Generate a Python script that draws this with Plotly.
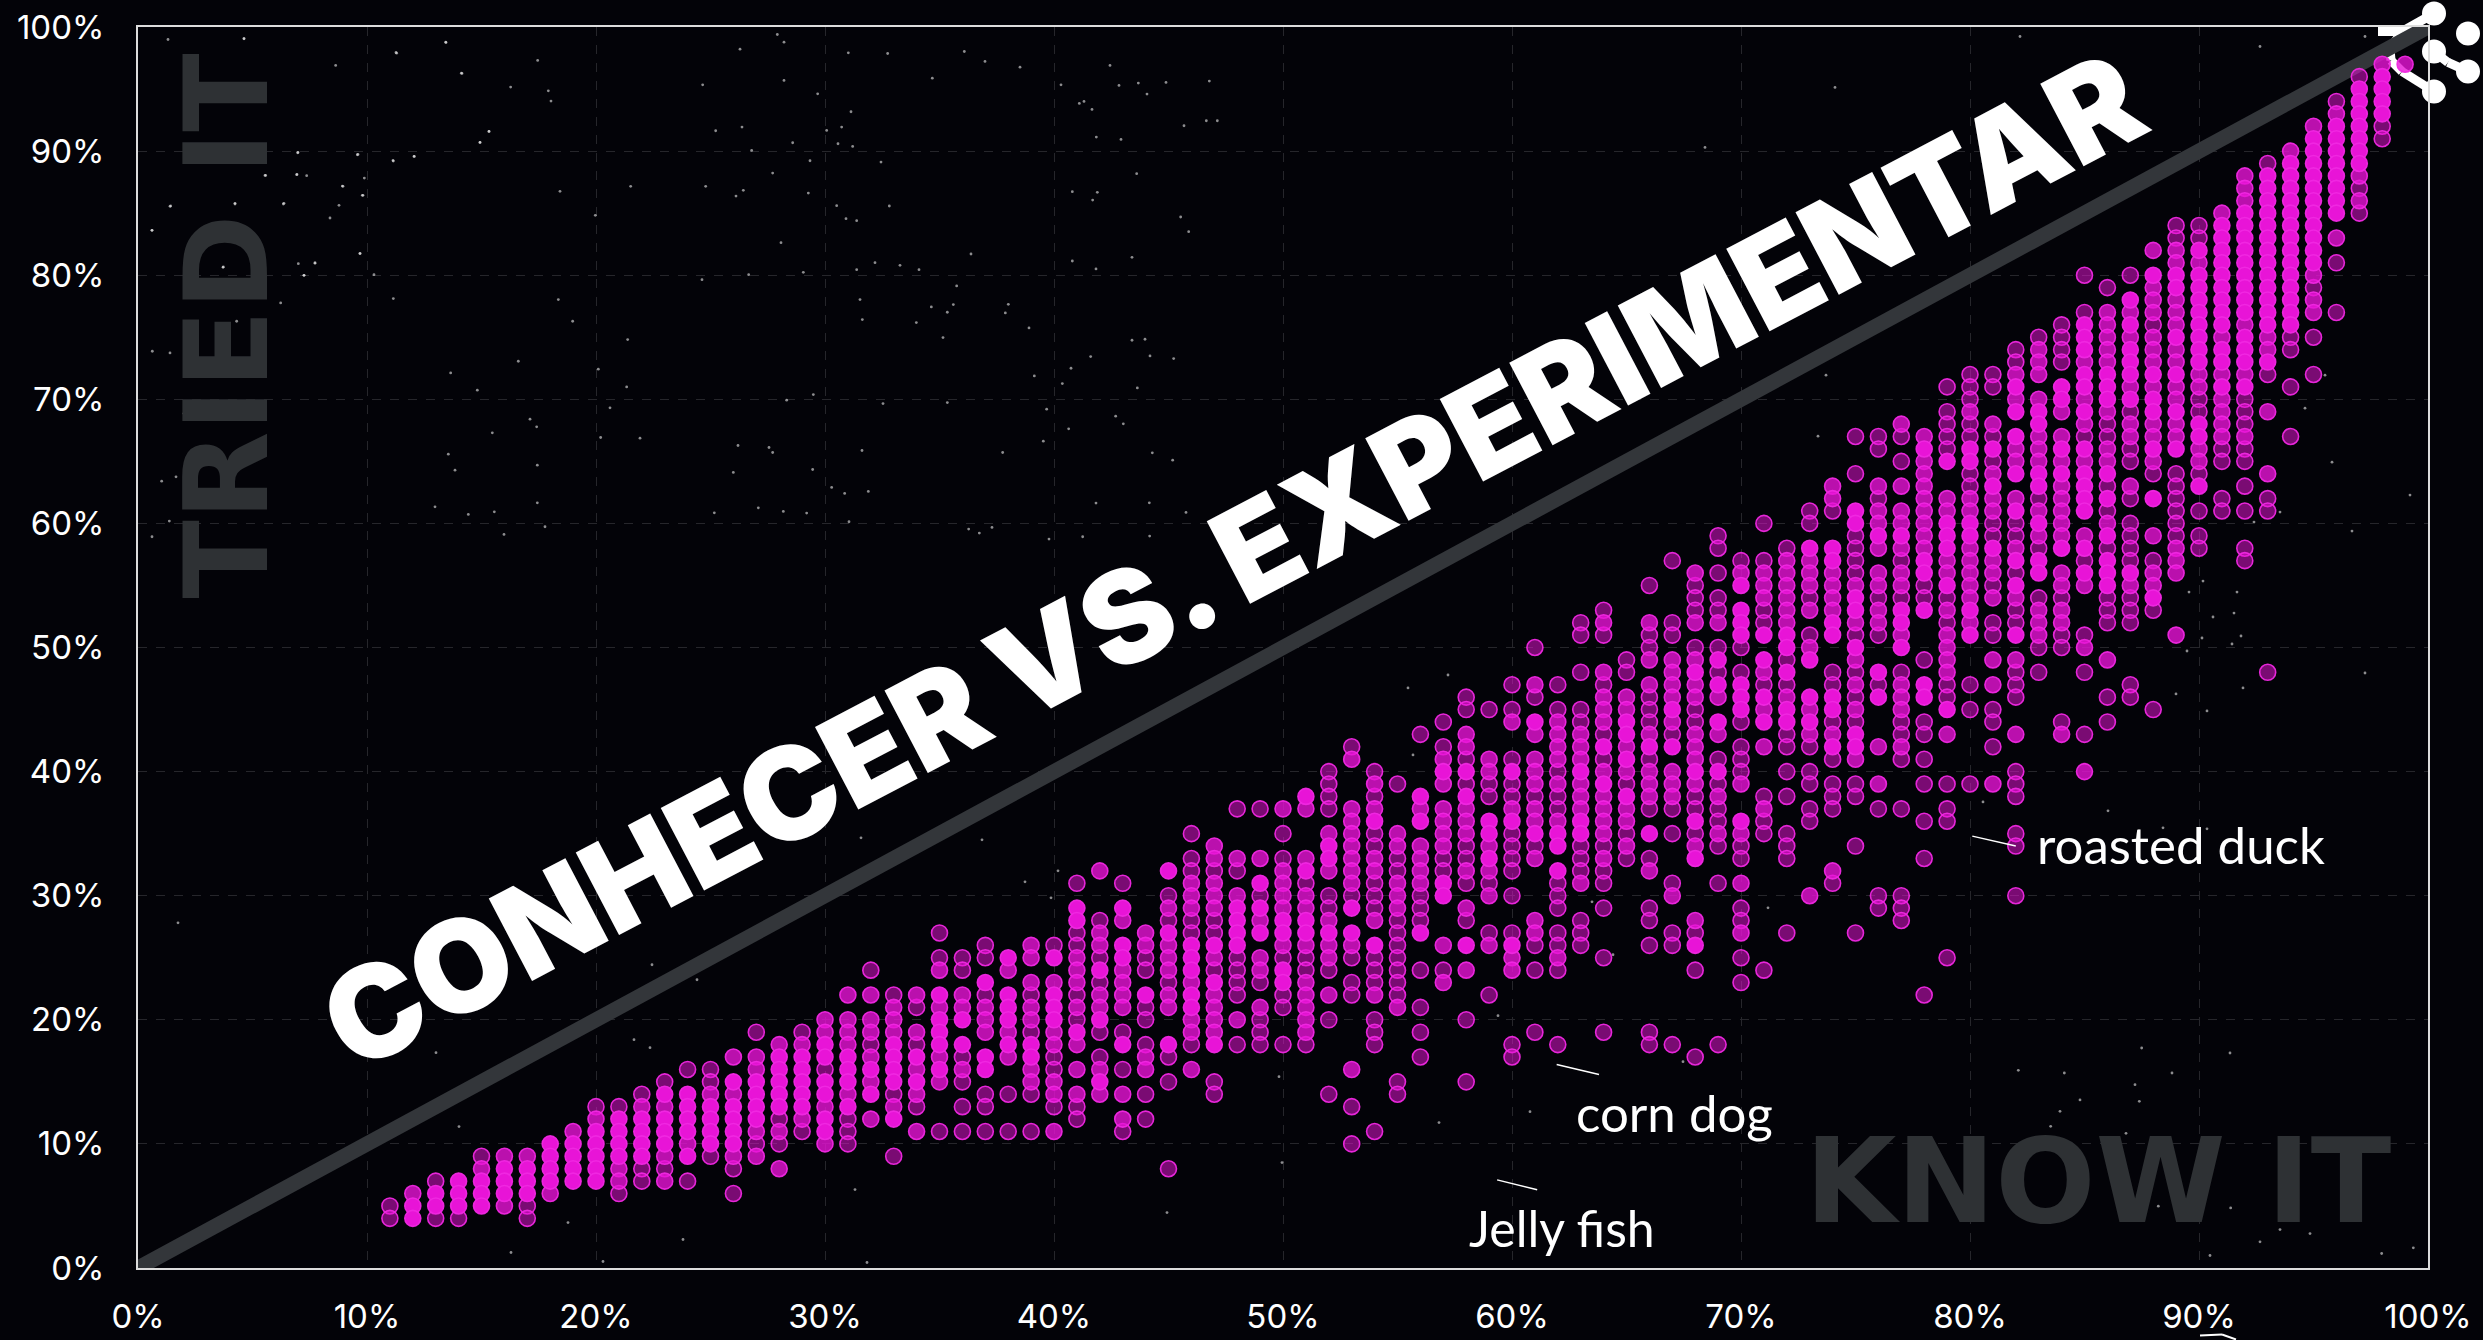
import plotly.graph_objects as go

hi = {12:[5,4],13:[6,5],14:[7,6,5],15:[7,6,5],16:[8,7,6],17:[8,7,6],18:[10,9,8,7],19:[10,9,8,7],20:[11,10,9,8,7],
21:[12,11,10,9],22:[12,11,10,9],23:[14,12,11,10],24:[14,13,12,11,9],25:[13,12,11,10],26:[15,13,12,11,10],27:[15,14,13,12],
28:[17,16,15,14,13],29:[17,16,15,14,13],30:[18,17,15,14,12,11],31:[17,16,15,13],32:[16,14],33:[18,17,16,15,12],34:[17,15],
35:[22,20,19,18,16],36:[20,18],37:[23,17,16],38:[25,22,21,20,18],39:[18,17],40:[25,22,21,20],41:[29,28,19],42:[24,20,15],
43:[29,26,25,18],44:[22],45:[32,27,18],46:[26,25,24,22,21],47:[26,23,18],48:[29,28,27,26],49:[31,29,27],50:[28,27,24,23],
51:[38,32,28,27],52:[34,33,27],53:[29,27],54:[36,26],56:[38,36,27],57:[40,31,30],58:[40,38,26],59:[36,35,33],60:[40,36,26],
61:[44,35],62:[35,34,32],63:[40,36,35],64:[42,39],65:[44,43,41,38],66:[42,35],67:[45,42],68:[48,40,36,33,26],69:[49,47,44,40],
70:[55,53,52,51,47,46,45,36],71:[51,49,46,44],72:[51,50,48,45,44],73:[58,49,46,44],74:[58,57,52,51,46,45,42],75:[61,60,54,53,50,43,42],
76:[59,48,46],77:[59,53,52,50],78:[66,57,56,53,47,46],79:[65,60,59,58,55,45],80:[66,65,60,59,53,51],81:[66,63,58],
82:[71,69,67,64,61,57,55,51],83:[69,68,64,63,60,57,56],84:[71,70,66,64,58],85:[76,75,74,72,71,69,66,64,63,62,61,58,56],
86:[72,71,70,64,62,59,57,56,55],87:[78,76,74,73,72,70,56],88:[80,72,70,69,66,62,54],89:[80,79,75,72,69,66],
90:[82,80,79,78,77,76,75,74,73,68,67,63],91:[84,83,82,81,80,79,78,77,76,74,73,71],
92:[85,84,83,82,81,80,79,78,77,75,74,73,71],93:[88,87,86,85,84,83,82,81,80,79,78,77,76,73],
94:[89,88,87,86,85,84,83,82,81,80,79,78,77,76],95:[91,90,89,88,87,86,85,84,83,82,81],96:[92,91,90,89,88,87,86,85],
97:[95,94,93,92,91,90,89],98:[96,95,94,93]}

mid = {12:[6],15:[8],16:[9,5],17:[9],18:[6],19:[11],20:[12],21:[8,7],22:[13],23:[13,9,7],24:[10],25:[14],26:[17,14,9],
27:[17,16,11,9],28:[18,11,8],29:[18,12],30:[20,19,13,10],31:[22,20,19,18,14],32:[22,20,19,17,15,12],33:[21,20,19,13],
34:[22,19,16,14,11],35:[24,21,17,15],36:[22,21,16],37:[21,20,19],38:[24,19,17],39:[26,25,23,21,20,16,15],40:[23,19,18,15,14,11],
41:[25,24,23,21,18,16,14],42:[32,27,26,22,21,16,14],43:[28,24,23,22,21,14,12],44:[27,26,17,16],45:[29,26,25,24,22,21],
46:[31,30,29,23,20,19,16],47:[34,33,31,30,29,25,22,21,20,19],48:[33,30,20],49:[33,28,25,24,21],50:[37,32,31,30,29,26],
51:[37,33,30,29,26,23,22,21,20,19],52:[35,32,28,26,25,22],53:[41,37,36,35,34,33,32,31,26,16],54:[39,37,33,32,28,22],
55:[35,34,31,30,29,21],56:[37,34,33,32,31],57:[41,39,37,36,35,34,26,23],58:[43,42,37,36,35,32,29,24],59:[41,40,34,32,30,26],
60:[44,37,25,24],61:[47,43,41,40,39,37,36,33,28,27],62:[44,43,42,41,39,36,25],63:[43,42,41,39,38,37,31],
64:[52,48,46,45,44,40,38,37,36,35,33],65:[46,45,42,40,37,36,34],66:[52,49,47,43,40,39,38,32],67:[49,48,47,46,44,40,39,38,30],
68:[56,52,49,47,46,43,42,41,39,34,28],69:[52,46,43,38,35],70:[56,39,35,31,27],71:[56,55,54,48,45,42,37],72:[57,56,55,54,53,52,46],
73:[57,56,55,53,50,45,43,30],74:[63,62,56,55,54,53,43,32],75:[55,52,49,47,45,41],76:[63,61,60,58,56,55,53,52,42,39],
77:[68,63,61,60,58,56,55,51,47,46,45,42],78:[67,65,64,63,62,61,60,59,58],79:[62,61,57,56,53,51,50,49,48,43],
80:[69,62,61,58,57,56,55,54,52],81:[68,64,62,61,57,56,54,49,47,39],82:[72,70,66,65,62,58,54,49,43],
83:[74,73,72,70,67,66,65,61,59,53,52,51],84:[69,67,65,63,62,61,60,59,56,55,53,52,43],85:[73,70,68,65,59,55,50,40],
86:[77,76,75,74,73,69,66,65,60,49],87:[77,75,71,68,67,63,55],88:[82,79,78,77,75,74,73,71,68,67,65,59,56,55],
89:[82,81,78,77,76,74,73,71,70,68,67,58,57,56,51],90:[81,72,71,66,65],91:[85,75,72,70,69,68,67],92:[88,87,86,76,72,67],
93:[75,74,69,64],94:[90],95:[92,80,78,77],96:[93,83],97:[88,86],98:[97],99:[97]}

dim = {11:[5,4],13:[7,4],14:[4],15:[9],17:[5,4],20:[13],21:[13,6],22:[14,8,7],23:[15,8],24:[16,7],25:[16,15,9],26:[8,6],
27:[19,10],28:[12,10],29:[19,11],30:[16],31:[12,11,10],32:[24,18],33:[22,14,9],34:[21,18,13],35:[27,25,11],36:[25,24,17,15,13,11],
37:[26,25,22,14,13,11],38:[14,11],39:[22,19,14,11],40:[26,17,16,13],41:[31,27,26,22,20,13,12],42:[28,25,23,19,17],
43:[31,19,16,11],44:[25,24,21,20,18,14,12],45:[30,28,23,17,15,8],46:[35,33,32,28,27,18],47:[32,28,27,24,15,14],
48:[37,32,25,24,23,22,18],49:[37,30,23,20,19,18],50:[35,33,25,22,21,18],51:[31,25,24,18],52:[40,39,38,37,30,29,24,20,14],
53:[42,30,25,23,22,13,10],54:[40,38,35,34,31,30,29,25,24,23,20,19,18,11],55:[39,33,32,28,27,26,25,24,23,22,15,14],
56:[43,30,29,28,24,21,19,17],57:[44,42,33,32,24],58:[46,45,41,39,34,33,31,28,20,15],59:[45,39,38,31,27,22],
60:[47,45,41,39,38,35,34,33,32,30,27,18,17],61:[50,46,38,34,26,24,19],62:[47,45,40,38,37,31,30,29,27,26,24,18],
63:[52,51,48,45,44,34,33,32,28,27,26],64:[53,51,47,43,41,34,32,31,29,25,19],65:[49,48,39,35,33],
66:[55,51,50,46,45,44,41,37,33,29,28,26,19,18],67:[57,52,51,43,37,35,31,27,26,18],68:[55,54,53,50,45,44,38,37,35,27,24,17],
69:[59,58,56,54,53,50,48,41,39,37,36,34,31,18],70:[57,50,48,44,42,41,40,34,33,29,28,25,23],
71:[60,57,53,52,47,38,36,35,24],72:[58,49,47,43,42,40,38,35,34,33,27],73:[61,60,54,51,42,40,39,37,36],74:[61,48,47,44,41,39,38,37,31],
75:[67,64,59,58,57,56,51,48,46,44,39,38,34,27],76:[67,66,62,54,51,47,37,30,29],77:[67,65,57,54,48,44,43,41,37,30,29,28],
78:[55,54,49,44,43,41,39,36,33,22],79:[71,69,68,67,66,54,52,47,46,39,37,36,25],80:[72,71,70,68,67,64,63,47,45,39],
81:[72,71,67,65,60,59,55,52,51,45,44,42],82:[74,73,60,59,56,53,52,48,47,46,40,39,38,35,34,30],83:[75,62,58,54,50,48],
84:[76,75,74,73,54,51,50,44],85:[80,77,67,57,51,48,43],86:[79,68,67,63,61,58,54,53,52,46,44],
87:[80,69,66,65,62,60,59,58,57,54,53,52,47,46],88:[76,64,57,53,45],89:[84,83,64,63,62,61,60,59],
90:[84,83,70,69,64,61,59,58],91:[66,65,62,61],92:[70,69,68,66,65,63,61,58,57],93:[89,72,62,61,48],94:[75,74,71,67],
95:[79,75,72],96:[94,81,77],97:[96,87,85],98:[92,91]}

ticks = [0,10,20,30,40,50,60,70,80,90,100]
tick_labels = [f"{t}%" for t in ticks]
diagonal = [0,100]
leader_duck = ([80.1,82.0],[34.8,34.0])
leader_corn = ([61.95,63.8],[16.4,15.6])
leader_jelly = ([59.35,61.1],[7.1,6.3])

# background stars in screen pixels
stars_screen = [(165,20),(222,9),(459,7),(417,14),(387,23),(315,25),(168,39),(244,38),(446,42),(396,52),(462,73),(489,131),(480,142),
(414,156),(393,160),(358,154),(298,152),(297,174),(265,175),(363,195),(343,186),(284,203),(235,203),(170,206),(152,230),(115,214),
(87,209),(29,185),(39,175),(15,146),(113,86),(52,62),(29,66),(76,237),(223,267),(304,275),(315,263),(360,253),
(2203,581),(2189,592),(2237,592),(2213,617),(2234,613),(2202,638),(2241,636),(2232,644),(2187,651),(2243,688),(2176,694),(2207,711),
(2254,522),(2280,512),(1826,375),(1818,436),(1983,802),(2108,811),(2163,828),(2207,829),
(1408,688),(1413,755),(1448,675),(1498,1016),(1439,1123),(1530,1112),(1613,955),(1592,902),(1768,908),(1683,1062),
(178,923),(9,930),(80,935),(118,970),(634,1040),(697,980),(652,965),(459,1127),(855,1190),(867,1263),(603,1262),(511,1253),
(683,1240),(497,1280),(640,1273),(718,1277),(760,1290),(568,1223),(436,1053),
(1705,147),(1835,87),(2020,36),(2260,46),(2365,36),(2445,400),(2462,780),(2325,375),(2305,408),(2332,462),
(2410,495),(2365,673),(2447,709),(2352,531),
(1025,882),(1058,871),(1051,898),(1279,1077),(1282,1163),(1167,1213),(982,840),(861,838),(650,1048)]
crop_a = (140,30,[(312,25),(917,35),(1193,90),(1233,212),(1225,181),(1112,170),(964,128),(770,68),(587,105),(1047,303),(1020,336),(823,378),(760,392),(652,373),(473,367),(470,433),(500,436),(377,435),(673,443),(607,467),(667,495),(430,521),(285,521),(92,527),(36,600),(570,563),(597,525),(1260,483),(1472,468),(1366,555),(660,670),(525,697),(475,700),(492,735),(702,733),(250,710),(760,805),(1255,808),(1298,873),(422,818),(290,873),(1463,928),(1135,993),(932,1028),(1375,1017),(1460,1070),(1012,1080),(1410,1133),(1170,1167),(1190,1190),(1057,1208),(925,1272),(945,1320),(1192,1305),(1382,1222),(1500,1224),(885,1430),(1063,1445),(1192,1418),(985,1453),(1215,1490),(1092,1513),(88,1473),(36,1520),(65,1353),(108,1340),(37,963),(90,968),(132,1150)])
crop_b = (700,30,[(232,12),(252,35),(120,56),(445,67),(563,69),(793,63),(855,93),(960,110),(697,143),(252,150),(8,163),(353,190),(1230,105),(1083,163),(1257,165),(1315,158),(1398,156),(1528,152),(1341,191),(1138,219),(1152,213),(1176,237),(453,244),(425,290),(380,300),(126,290),(47,301),(278,337),(414,340),(458,348),(155,360),(330,391),(543,395),(218,428),(17,468),(130,480),(108,497),(325,488),(568,527),(410,526),(470,571),(438,565),(243,637),(1117,484),(1192,486),(1178,509),(1442,560),(1466,604),(1519,271),(1552,271),(1452,286),(1189,320),(1263,327),(1310,430),(813,671),(1117,692),(1188,716),(1296,681),(470,718),(600,705),(657,718),(525,697),(310,726),(146,733),(6,748),(480,808),(770,767),(760,823),(694,830),(742,846),(925,822),(916,848),(649,877),(487,868),(729,922),(987,893),(1296,930),(1335,927),(1350,977),(1421,985),(1172,979),(1113,1014),(1087,1060),(1312,1073),(1003,1037),(340,1093),(260,1110),(549,1120),(742,1117),(1040,1137),(1247,1158),(1270,1181),(1106,1196),(114,1246),(207,1252),(218,1267),(486,1261),(908,1267),(1030,1233),(1357,1268),(1418,1290),(338,1318),(395,1372),(434,1390),(505,1384),(43,1448),(175,1433),(250,1444),(320,1449),(447,1475),(806,1497),(876,1492),(838,1509),(1047,1527),(1148,1520),(1349,1518),(1188,1419),(1348,1418),(1458,1447),(100,1327)])
crop_c = (2000,1040,[(690,40),(425,25),(55,92),(193,100),(516,100),(405,135),(240,181),(418,185),(180,215),(152,260),(378,281),(840,570),(780,607),(630,648),(1145,642),(1313,580),(1378,644),(1402,683),(1230,720),(1305,725),(878,721),(697,714),(628,762),(300,758),(345,857),(475,500),(692,505),(880,842),(1065,795),(1095,697),(930,582),(1240,625)])
for ox, oy, pts in (crop_a, crop_b, crop_c):
    stars_screen += [(ox+a/3, oy+b/3) for a, b in pts]
star_x = [(p[0]-138)/22.9 for p in stars_screen]
star_y = [(1268.5-p[1])/12.42 for p in stars_screen]

def flat(d):
    xs, ys = [], []
    for k, vals in d.items():
        for v in vals:
            xs.append(k); ys.append(v)
    return xs, ys

BG = "#030308"
fig = go.Figure()
fig.add_trace(go.Scatter(x=star_x, y=star_y, mode="markers", cliponaxis=False, hoverinfo="skip",
                         marker=dict(size=2.8, color="rgba(255,255,255,0.55)", line=dict(width=0))))
fig.add_trace(go.Scatter(x=diagonal, y=diagonal, mode="lines", line=dict(color="#33363a", width=15), hoverinfo="skip"))
for d, a in ((dim,0.52),(mid,0.8),(hi,1.0)):
    xs, ys = flat(d)
    fig.add_trace(go.Scatter(x=xs, y=ys, mode="markers", cliponaxis=False,
        marker=dict(size=16, color=f"rgba(232,20,215,{a})", line=dict(width=1.6, color="rgba(240,40,225,0.95)"))))
for lx, ly in (leader_duck, leader_corn, leader_jelly):
    fig.add_trace(go.Scatter(x=lx, y=ly, mode="lines", line=dict(color="white", width=1.5), hoverinfo="skip"))

# logo, in paper coordinates
def px(x): return (x-138)/2290
def py(y): return (1268.5-y)/1242
shapes = []
for (a,b,c,d) in [(2434,13,2402,31),(2402,31,2390,48),(2390,48,2391,60),(2391,60,2402,71),(2402,71,2434,91),(2434,51,2448,62),(2448,62,2468,71),(2402,31,2378,31),(2200,1336,2222,1335),(2222,1335,2236,1340)]:
    shapes.append(dict(type="line", xref="paper", yref="paper", x0=px(a), y0=py(b), x1=px(c), y1=py(d),
                       line=dict(color="white", width=9 if b < 200 else 2), layer="below"))
for (cx,cy) in [(2434,13),(2468,33),(2434,51),(2468,71),(2434,91)]:
    shapes.append(dict(type="circle", xref="paper", yref="paper", x0=px(cx-12), x1=px(cx+12), y0=py(cy-12), y1=py(cy+12),
                       fillcolor="white", line=dict(width=0), layer="below"))

anns = [
 dict(text="CONHECER VS. EXPERIMENTAR", x=47.8, y=57.0, textangle=-27.7, font=dict(family="Inter", size=128, color="white", weight=900)),
 dict(text="TRIED IT", x=3.9, y=75.9, textangle=-90, font=dict(family="DejaVu Sans", size=115, color="#2e3134", weight=700)),
 dict(text="KNOW IT", x=85.6, y=7.0, font=dict(family="DejaVu Sans", size=118, color="#2e3134", weight=700)),
 dict(text="roasted duck", x=89.2, y=34.1, font=dict(family="Lato", size=51, color="white")),
 dict(text="corn dog", x=67.1, y=12.5, font=dict(family="Lato", size=51, color="white")),
 dict(text="Jelly fish", x=62.2, y=3.2, font=dict(family="Lato", size=50, color="white")),
]
for a in anns:
    a.update(xref="x", yref="y", showarrow=False, xanchor="center", yanchor="middle")

axis = dict(range=[0,100], tickvals=ticks, ticktext=tick_labels, showline=True, mirror=True, linecolor="#dcdcdc", linewidth=2,
            gridcolor="#26262b", griddash="dash", gridwidth=1, zeroline=False, ticks="outside", ticklen=25, automargin=False,
            tickcolor="rgba(0,0,0,0)", tickfont=dict(family="Inter", size=33, color="white"))
xaxis = dict(axis, ticklen=18)
fig.update_layout(width=2483, height=1340, autosize=False, showlegend=False, paper_bgcolor=BG, plot_bgcolor=BG,
                  margin=dict(l=138, r=55, t=26.5, b=71.5), xaxis=xaxis, yaxis=axis, shapes=shapes, annotations=anns)
fig.write_html("out.html", config={"displayModeBar": False},
               post_script="document.body.style.margin='0';document.body.style.background='#030308';document.body.style.overflow='hidden';")
